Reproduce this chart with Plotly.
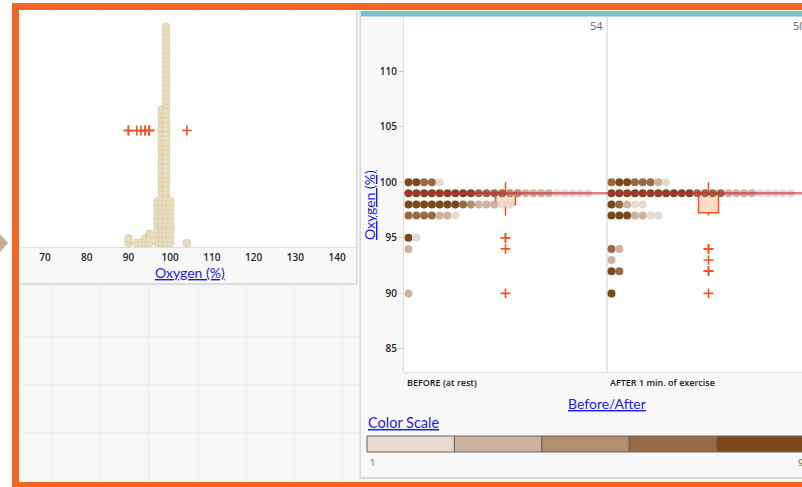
import numpy as np
import plotly.graph_objects as go

W, H = 802, 487

# ---------------- data ----------------
# Oxygen (%) for every case: value and number of cases at that value
all_values = [90, 92, 93, 94, 95, 97, 98, 99, 100, 104]
all_counts = [2, 1, 1, 2, 3, 10, 30, 48, 10, 1]

# Oxygen (%) split by Before/After; for each value the colour-scale bin (1..5) of every case
groups = ["BEFORE (at rest)", "AFTER 1 min. of exercise"]
before_values = [100, 99, 98, 97, 95, 94, 90]
before_bins = [
    [5, 5, 4, 4, 1],
    [5] * 9 + [4] * 4 + [3] * 2 + [2] * 4 + [1] * 5,
    [5] * 7 + [4, 3] + [2] * 3 + [1] * 2,
    [4, 4, 4, 4, 2, 2, 1],
    [5, 1],
    [2],
    [2],
]
after_values = [100, 99, 98, 97, 94, 93, 92, 90]
after_bins = [
    [4, 5, 5, 4, 4, 4, 2, 1],
    [5] * 11 + [4] * 4 + [2] * 4 + [1] * 5,
    [5, 4, 2, 1, 1],
    [5, 5, 5, 2, 2, 1, 1],
    [4, 2],
    [2],
    [5, 4],
    [5],
]
reference_value = 99

color_bins = ["#e4dad0", "#ccb3a0", "#b38f72", "#966a45", "#7a481b"]
scale_labels = ["1", "9"]

x_ticks = [70, 80, 90, 100, 110, 120, 130, 140]
y_ticks = [85, 90, 95, 100, 105, 110]

# ---------------- helpers ----------------
def X(px):
    return px / W


def Y(py):
    return 1 - py / H


def rect(x0, y0, x1, y1, fill, line=None, lw=0):
    return dict(type="rect", xref="paper", yref="paper", layer="below",
                x0=X(x0), x1=X(x1), y0=Y(y1), y1=Y(y0), fillcolor=fill,
                line=dict(color=line or fill, width=lw))


def hline(x0, x1, y, color, w=1):
    return dict(type="line", xref="paper", yref="paper", layer="below",
                x0=X(x0), x1=X(x1), y0=Y(y), y1=Y(y), line=dict(color=color, width=w))


def vline(x, y0, y1, color, w=1):
    return dict(type="line", xref="paper", yref="paper", layer="below",
                x0=X(x), x1=X(x), y0=Y(y0), y1=Y(y1), line=dict(color=color, width=w))


def box_stats(vals):
    v = np.sort(np.asarray(vals, dtype=float))
    q1, med, q3 = np.percentile(v, [25, 50, 75])
    iqr = q3 - q1
    lo = v[v >= q1 - 1.5 * iqr].min()
    hi = v[v <= q3 + 1.5 * iqr].max()
    out = v[(v < lo) | (v > hi)]
    return q1, med, q3, lo, hi, out


ORANGE = "#f26522"
BOX_LINE = "#f4511e"
BOX_FILL = "rgba(253,196,160,0.6)"
LINK = "#1a1af0"
TICK_FONT = dict(family="Open Sans", size=10, color="#1e1e1e", weight=600)

fig = go.Figure()

# ---------------- left panel: dot plot of all cases ----------------
step = 4.6
lx, ly = [], []
for v, c in zip(all_values, all_counts):
    for i in range(c):
        lx.append(v)
        ly.append(4 + i * step)
fig.add_trace(go.Scatter(
    x=lx, y=ly, mode="markers", xaxis="x", yaxis="y", hoverinfo="skip",
    marker=dict(size=8, color="#e9ddc0", line=dict(color="#d8c89f", width=0.6))))

all_expanded = np.repeat(all_values, all_counts)
q1, med, q3, lo, hi, out = box_stats(all_expanded)
box_y = 116.5
fig.add_trace(go.Box(
    orientation="h", y=[box_y], q1=[q1], median=[med], q3=[q3],
    lowerfence=[lo], upperfence=[hi], width=21, whiskerwidth=0,
    boxpoints=False, fillcolor=BOX_FILL, line=dict(color=BOX_LINE, width=1.5),
    xaxis="x", yaxis="y", hoverinfo="skip", showlegend=False))
fig.add_trace(go.Scatter(
    x=out, y=[box_y] * len(out), mode="markers", xaxis="x", yaxis="y", hoverinfo="skip",
    marker=dict(symbol="cross-thin", size=7, line=dict(color=BOX_LINE, width=1.6))))

# ---------------- right panel: Oxygen by Before/After ----------------
cell = 203.0
dot_gap = 7.8
x2_left = 404  # left edge of the first cell, in page pixels
for g, (vals, bins) in enumerate([(before_values, before_bins), (after_values, after_bins)]):
    gx, gy, gc = [], [], []
    expanded = []
    for v, row in zip(vals, bins):
        for i, b in enumerate(row):
            gx.append(g * cell + 4.5 + i * dot_gap)
            gy.append(v)
            gc.append(color_bins[b - 1])
            expanded.append(v)
    fig.add_trace(go.Scatter(
        x=gx, y=gy, mode="markers", xaxis="x2", yaxis="y2", hoverinfo="skip",
        marker=dict(size=8, color=gc, line=dict(width=0))))

    q1, med, q3, lo, hi, out = box_stats(expanded)
    cx = g * cell + cell / 2
    fig.add_trace(go.Box(
        x=[cx], q1=[q1], median=[med], q3=[q3], lowerfence=[lo], upperfence=[hi],
        width=20, whiskerwidth=0, boxpoints=False, fillcolor=BOX_FILL,
        line=dict(color=BOX_LINE, width=1.5), xaxis="x2", yaxis="y2",
        hoverinfo="skip", showlegend=False))
    fig.add_trace(go.Scatter(
        x=[cx] * len(out), y=out, mode="markers", xaxis="x2", yaxis="y2", hoverinfo="skip",
        marker=dict(symbol="cross-thin", size=7, line=dict(color=BOX_LINE, width=1.6))))

    # case count in the top-right corner of the cell
    fig.add_annotation(x=X(x2_left + (g + 1) * cell - 2), y=Y(25), xref="paper", yref="paper",
                       text=str(len(expanded)), showarrow=False, xanchor="right",
                       yanchor="middle", font=dict(family="Open Sans", size=11, color="#5f6670"))
    # category label below the cell
    fig.add_annotation(x=X(x2_left + g * cell + 1), y=Y(382), xref="paper", yref="paper",
                       text=groups[g], showarrow=False, xanchor="left", yanchor="middle",
                       font=dict(family="Open Sans", size=9, color="#1a1a1a", weight=600))

# horizontal value line across both cells
fig.add_trace(go.Scatter(
    x=[0, 2 * cell], y=[reference_value, reference_value], mode="lines",
    xaxis="x2", yaxis="y2", hoverinfo="skip",
    line=dict(color="rgba(200,40,60,0.6)", width=2.5)))

# ---------------- decoration / panels ----------------
shapes = []
shapes.append(dict(type="path", xref="paper", yref="paper", layer="below",
                   path=f"M {X(0)},{Y(234)} L {X(8)},{Y(243)} L {X(0)},{Y(252)} Z",
                   fillcolor="#c9ae8e", line=dict(width=0)))
shapes.append(rect(12, 3, 820, 495, ORANGE))
shapes.append(rect(19, 10, 820, 482, "#f6f6f6"))
for gx_ in [52, 100, 149, 198, 246, 294, 342]:
    shapes.append(vline(gx_, 10, 482, "#ebebeb"))
for gy_ in [337, 385, 433]:
    shapes.append(hline(19, 360, gy_, "#ebebeb"))

# left card
shapes.append(rect(20, 11, 357.5, 285, "#dcdcdc"))
shapes.append(rect(20, 11, 356, 283, "#ffffff"))
shapes.append(rect(20, 247, 356, 283, "#f8f8f8"))

# right card
shapes.append(rect(359.5, 11, 820, 479, "#d8d8d8"))
shapes.append(rect(361, 11, 820, 477, "#f8f8f8"))
shapes.append(rect(404, 17, 820, 372, "#ffffff"))
shapes.append(rect(361, 11, 820, 16.5, "#75c3cc"))
shapes.append(vline(607, 17, 372, "#e6e6e6", 2))
shapes.append(hline(404, 820, 372.5, "#e2e2e2"))

# colour scale
seg_w = 87.4
for i, col in enumerate(color_bins):
    x0 = 367 + i * seg_w
    shapes.append(rect(x0, 436, x0 + seg_w, 452, col, "#6e6258", 1))

fig.update_layout(shapes=shapes)

# ---------------- text ----------------
def note(x, y, text, size, color, xanchor="center", angle=0, family="Lato"):
    fig.add_annotation(x=X(x), y=Y(y), xref="paper", yref="paper", text=text,
                       showarrow=False, xanchor=xanchor, yanchor="middle",
                       textangle=angle, font=dict(family=family, size=size, color=color))

note(190, 272.5, "<u>Oxygen (%)</u>", 14, LINK)
note(370, 205, "<u>Oxygen (%)</u>", 14, LINK, angle=-90)
note(607, 403, "<u>Before/After</u>", 14, LINK)
note(366, 422, "<u>Color Scale</u>", 14.5, LINK, xanchor="left")
note(368, 462, scale_labels[0], 9, "#555", xanchor="left", family="Open Sans")
note(796, 462, scale_labels[1], 9, "#555", xanchor="left", family="Open Sans")

# ---------------- axes ----------------
fig.update_layout(
    width=W, height=H, margin=dict(l=0, r=0, t=0, b=0),
    paper_bgcolor="#ffffff", plot_bgcolor="rgba(0,0,0,0)", showlegend=False,
    xaxis=dict(domain=[X(22), X(356)], range=[64.49, 144.55], tickvals=x_ticks,
               tickfont=TICK_FONT, showgrid=False, zeroline=False, showline=True,
               linecolor="#dedede", ticks="outside", ticklen=1,
               tickcolor="rgba(0,0,0,0)", anchor="y", fixedrange=True),
    yaxis=dict(domain=[Y(247), Y(11)], range=[0, 236], visible=False, fixedrange=True),
    xaxis2=dict(domain=[X(404), 1], range=[0, 398], visible=False, anchor="y2",
                fixedrange=True),
    yaxis2=dict(domain=[Y(372), Y(17)], range=[82.93, 114.86], tickvals=y_ticks,
                tickfont=TICK_FONT, showgrid=False, zeroline=False, showline=True,
                linecolor="#dedede", ticks="outside", ticklen=4, tickcolor="#cfcfcf",
                anchor="x2", fixedrange=True),
)

fig.write_html("out.html")
